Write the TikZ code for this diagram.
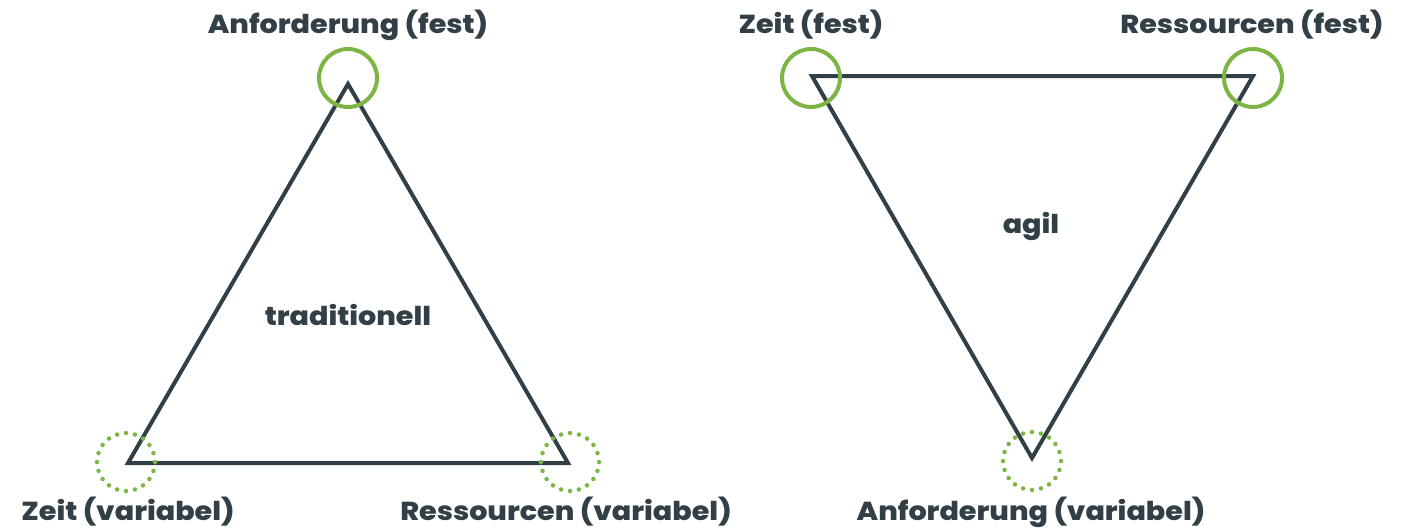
\documentclass[tikz,border=0pt]{standalone}
\usepackage{fontspec}
\setmainfont{Poppins}[BoldFont={Poppins ExtraBold},FakeStretch=1.1]
\definecolor{ink}{HTML}{333F47}
\definecolor{leaf}{HTML}{7DB544}
\tikzset{
  tri/.style={draw=ink,line width=4pt,line join=miter},
  fixed/.style={circle,draw=leaf,line width=4pt,minimum size=58pt,inner sep=0pt},
  loose/.style={circle,draw=leaf,line width=4.5pt,minimum size=58pt,inner sep=0pt,line cap=round,dash pattern=on 0pt off 9.1pt},
  lbl/.style={text=ink,font=\fontsize{26}{30}\selectfont\bfseries,anchor=base,inner sep=0pt},
}
\begin{document}
\begin{tikzpicture}[x=1pt,y=-1pt]
\useasboundingbox (0,0) rectangle (1411,528);
% left triangle
\coordinate (la) at (348,84);
\coordinate (lb) at (128,463);
\coordinate (lc) at (568,463);
\draw[tri] (la) -- (lb) -- (lc) -- cycle;
\node[fixed] (ca) at (348,78) {};
\node[loose] (cb) at (126,462) {};
\node[loose] (cc) at (570,462) {};
\node[lbl] (ta) at (348,33) {Anforderung (fest)};
\node[lbl] (tb) at (128,520) {Zeit (variabel)};
\node[lbl] (tc) at (566,520) {Ressourcen (variabel)};
\node[lbl] (tt) at (348,325) {traditionell};
% right triangle
\coordinate (ra) at (812,76);
\coordinate (rb) at (1253,76);
\coordinate (rc) at (1032,458);
\draw[tri] (ra) -- (rb) -- (rc) -- cycle;
\node[fixed] (da) at (811,78) {};
\node[fixed] (db) at (1253,78) {};
\node[loose] (dc) at (1032,461) {};
\node[lbl] (sa) at (811,33) {Zeit (fest)};
\node[lbl] (sb) at (1252,33) {Ressourcen (fest)};
\node[lbl] (sc) at (1031,520) {Anforderung (variabel)};
\node[lbl] (st) at (1031,233) {agil};
\end{tikzpicture}
\end{document}
